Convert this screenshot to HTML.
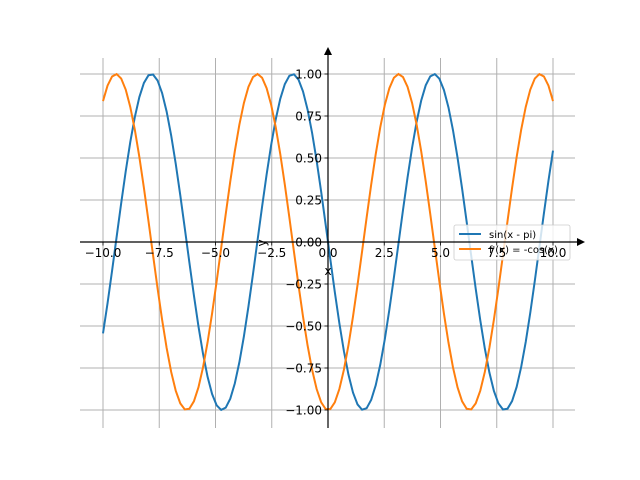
<!DOCTYPE html>
<html><head><meta charset="utf-8"><style>
body{margin:0;background:#fff;}
svg{display:block;font-family:"DejaVu Sans","Liberation Sans",sans-serif;}
</style></head><body>
<svg id="s" width="640" height="480" xmlns="http://www.w3.org/2000/svg">
<g id="grid" stroke="#b0b0b0" stroke-width="1"></g>
<g id="curves" fill="none" stroke-width="2"></g>
<rect x="454" y="225" width="116" height="35" rx="2" fill="#fff" fill-opacity="0.8" stroke="#ccc" stroke-width="0.8"/>
<line x1="459" y1="234" x2="481" y2="234" stroke="#1f77b4" stroke-width="2"/>
<line x1="459" y1="249" x2="481" y2="249" stroke="#ff7f0e" stroke-width="2"/>
<text x="489" y="238" font-size="10">sin(x - pi)</text>
<text x="489" y="253" font-size="10">f'(x) = -cos(x)</text>
<line x1="80" y1="242" x2="578" y2="242" stroke="#000" stroke-width="1.2"/>
<polygon points="585,242 577,238 577,246" fill="#000"/>
<line x1="328" y1="428" x2="328" y2="54" stroke="#000" stroke-width="1.2"/>
<polygon points="328,47 324,55 332,55" fill="#000"/>
<g id="ticks" stroke="#000" stroke-width="0.8"></g>
<g id="labels" font-size="12" fill="#000"></g>
<text x="328" y="275" font-size="12" text-anchor="middle">x</text>
<text x="0" y="0" font-size="12" text-anchor="middle" transform="translate(266,243) rotate(-90)">y</text>
</svg>
<script>
const X=x=>328+x*22.5, Y=y=>242-y*168, ns="http://www.w3.org/2000/svg";
const f=(v,d)=>v.toFixed(d).replace('-','\u2212');
function el(p,t,a,txt){const e=document.createElementNS(ns,t);for(const k in a)e.setAttribute(k,a[k]);if(txt!=null)e.textContent=txt;document.getElementById(p).appendChild(e);}
for(let i=0;i<9;i++){const v=-10+i*2.5;el('grid','line',{x1:X(v),x2:X(v),y1:58,y2:428});
el('ticks','line',{x1:X(v),x2:X(v),y1:242,y2:245.5});
el('labels','text',{x:X(v),y:257,'text-anchor':'middle'},f(v,1));}
for(let i=0;i<9;i++){const v=-1+i*0.25;el('grid','line',{x1:80,x2:575,y1:Y(v),y2:Y(v)});
el('ticks','line',{x1:324.5,x2:328,y1:Y(v),y2:Y(v)});
el('labels','text',{x:322,y:Y(v)+4.5,'text-anchor':'end'},f(v,2));}
let a=[],b=[];for(let i=0;i<100;i++){const x=-10+20*i/99;a.push(X(x)+','+Y(-Math.sin(x)));b.push(X(x)+','+Y(-Math.cos(x)));}
el('curves','polyline',{points:a.join(' '),stroke:'#1f77b4'});
el('curves','polyline',{points:b.join(' '),stroke:'#ff7f0e'});
</script>
</body></html>
